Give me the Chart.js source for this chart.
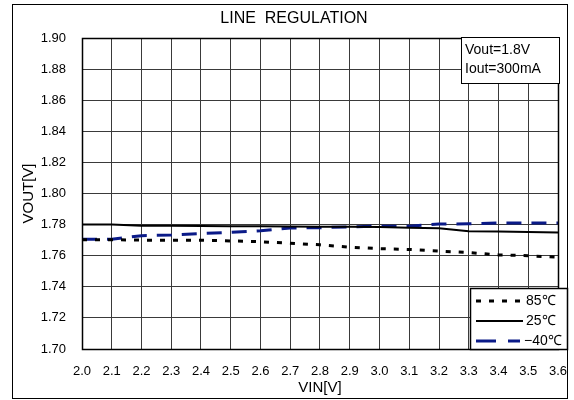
<!DOCTYPE html>
<html><head><meta charset="utf-8">
<script src="https://cdn.jsdelivr.net/npm/chart.js@4/dist/chart.umd.min.js"></script>
<style>html,body{margin:0;padding:0;background:#fff}</style>
</head><body>
<canvas id="c" width="574" height="400"></canvas>
<script>
const vin = [2.0,2.1,2.2,2.3,2.4,2.5,2.6,2.7,2.8,2.9,3.0,3.1,3.2,3.3,3.4,3.5,3.6];
const vout85 = [1.7703,1.7703,1.770,1.770,1.770,1.7695,1.769,1.768,1.767,1.7655,1.7645,1.764,1.763,1.762,1.7605,1.760,1.759];
const vout25 = [1.780,1.780,1.7793,1.7792,1.7791,1.779,1.779,1.7788,1.7786,1.7786,1.7785,1.778,1.7777,1.7758,1.7755,1.7752,1.7749];
const voutM40 = [1.7706,1.7706,1.7729,1.7733,1.7743,1.775,1.776,1.7778,1.778,1.7786,1.779,1.779,1.7804,1.7805,1.781,1.781,1.781];
const seriesNames = ['85℃','25℃','−40℃'];
const chartTitle = 'LINE  REGULATION';
const xTitle = 'VIN[V]';
const yTitle = 'VOUT[V]';
const noteLines = ['Vout=1.8V','Iout=300mA'];

const FONT = '"Liberation Sans", Arial, sans-serif';
const toXY = (xs, ys) => xs.map((x,i)=>({x, y: ys[i]}));

const deco = {
  id:'deco',
  beforeDraw(chart){
    const ctx = chart.ctx;
    ctx.save(); ctx.fillStyle='#fff'; ctx.fillRect(0,0,chart.width,chart.height); ctx.restore();
  },
  afterDraw(chart){
    const ctx = chart.ctx, a = chart.chartArea;
    ctx.save();
    ctx.strokeStyle='#000'; ctx.lineWidth=1;
    ctx.strokeRect(12.5,4.5,555,394);
    ctx.lineWidth=1.5;
    ctx.strokeRect(Math.round(a.left)+0.5, Math.round(a.top)+0.5, Math.round(a.right-a.left), Math.round(a.bottom-a.top));
    ctx.fillStyle='#000'; ctx.font='16px '+FONT; ctx.textAlign='center'; ctx.textBaseline='middle';
    ctx.fillText(chartTitle, 294, 19);
    ctx.fillStyle='#fff'; ctx.fillRect(461,37,98,46);
    ctx.lineWidth=1; ctx.strokeStyle='#000'; ctx.strokeRect(461.5,37.5,98,46);
    ctx.fillStyle='#000'; ctx.font='14px '+FONT; ctx.textAlign='left';
    ctx.fillText(noteLines[0], 465, 50);
    ctx.fillText(noteLines[1], 465, 69);
    ctx.fillStyle='#fff'; ctx.fillRect(470,288,97,61);
    ctx.strokeStyle='#000'; ctx.lineWidth=1.5; ctx.strokeRect(470.5,288.5,97,61);
    const rows=[301,321,341];
    chart.data.datasets.forEach((ds,i)=>{
      ctx.save();
      ctx.strokeStyle=ds.borderColor; ctx.lineWidth=ds.borderWidth; ctx.setLineDash(i==2?[20,12]:(ds.borderDash||[]));
      ctx.beginPath(); ctx.moveTo(476,rows[i]); ctx.lineTo(i==2?520:523,rows[i]); ctx.stroke();
      ctx.restore();
      ctx.fillStyle='#000'; ctx.font='14px '+FONT; ctx.textAlign='left'; ctx.textBaseline='middle';
      ctx.fillText(ds.label, i==2?524:526, rows[i]);
    });
    ctx.restore();
  }
};

new Chart(document.getElementById('c'), {
  type:'line',
  data:{datasets:[
    {label:seriesNames[0], data:toXY(vin,vout85), borderColor:'#000', borderWidth:3, borderDash:[5,8], pointRadius:0, fill:false},
    {label:seriesNames[1], data:toXY(vin,vout25), borderColor:'#000', borderWidth:2, pointRadius:0, fill:false},
    {label:seriesNames[2], data:toXY(vin,voutM40), borderColor:'#0a1a88', borderWidth:3, borderDash:[15,10], pointRadius:0, fill:false}
  ]},
  options:{
    responsive:false, animation:false, devicePixelRatio:1,
    layout:{padding:{left:0,top:38,right:16,bottom:0}},
    plugins:{legend:{display:false}, tooltip:{enabled:false}},
    scales:{
      x:{type:'linear', min:2.0, max:3.6,
        afterFit(s){ s.height=51; s.paddingRight=0; s.paddingLeft=0; },
        ticks:{stepSize:0.1, padding:15, color:'#000', font:{family:FONT,size:13}, callback:v=>Number(v).toFixed(1)},
        grid:{color:'#3a3a3a', lineWidth:1, drawTicks:false},
        border:{display:false},
        title:{display:true, text:xTitle, color:'#000', font:{family:FONT,size:15}, padding:{top:0,bottom:3}}
      },
      y:{type:'linear', min:1.70, max:1.90,
        afterFit(s){ s.width=82; s.paddingTop=0; s.paddingBottom=0; },
        ticks:{stepSize:0.02, padding:16, color:'#000', font:{family:FONT,size:13}, callback:v=>Number(v).toFixed(2)},
        grid:{color:'#3a3a3a', lineWidth:1, drawTicks:false},
        border:{display:false},
        title:{display:true, text:yTitle, color:'#000', font:{family:FONT,size:15}, padding:{top:20,bottom:0}}
      }
    }
  },
  plugins:[deco]
});
</script>
</body></html>
